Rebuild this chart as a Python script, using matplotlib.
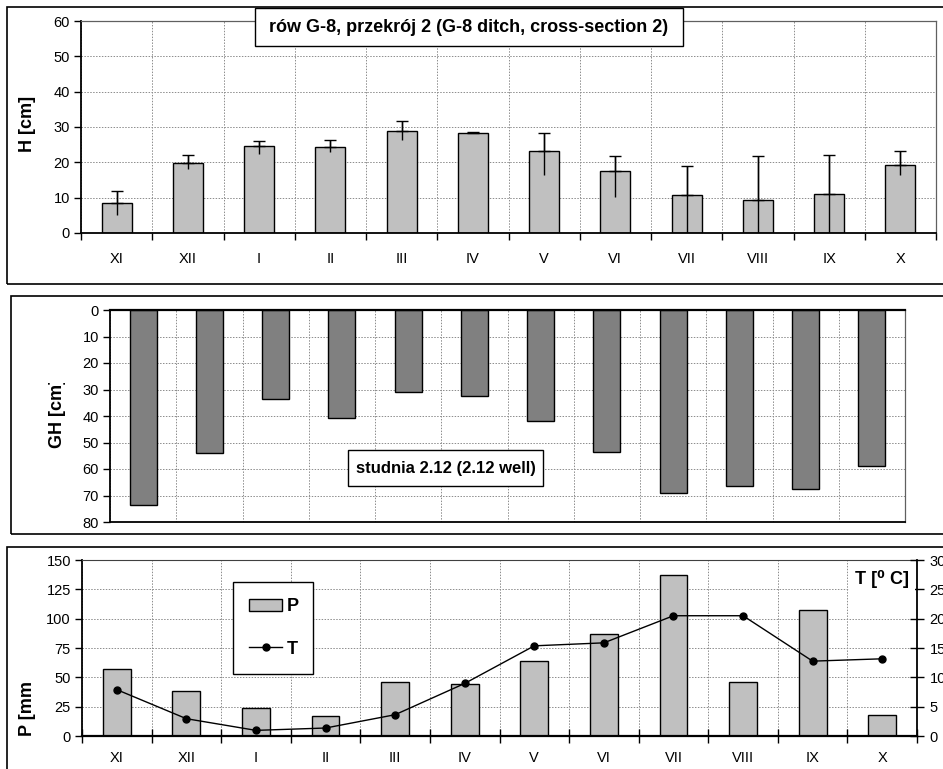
import numpy as np
import matplotlib
matplotlib.use("Agg")
import matplotlib.pyplot as plt
from matplotlib.patches import Rectangle
from matplotlib.lines import Line2D
from matplotlib.transforms import Bbox

plt.rcParams['font.family'] = ['Liberation Sans', 'DejaVu Sans']

months = ["XI", "XII", "I", "II", "III", "IV", "V", "VI", "VII", "VIII", "IX", "X"]

# water level in the ditch with asymmetric ranges
H = [8.4, 19.8, 24.6, 24.3, 29.0, 28.3, 23.2, 17.5, 10.7, 9.3, 11.0, 19.2]
H_hi = [3.6, 2.4, 1.3, 1.9, 2.7, 0.3, 5.1, 4.4, 8.2, 12.6, 11.2, 4.0]
H_lo = [3.3, 1.8, 2.2, 1.3, 2.8, 0.0, 6.9, 7.2, 10.7, 9.3, 11.0, 2.9]

# groundwater depth in the well
GH = [73.7, 53.8, 33.4, 40.6, 31.0, 32.5, 42.0, 53.4, 69.1, 66.5, 67.5, 58.9]

# precipitation and air temperature
P = [56.7, 38.6, 24.1, 17.3, 45.6, 44.5, 64.1, 87.0, 137.2, 45.6, 107.5, 18.1]
T = [7.9, 2.95, 0.96, 1.36, 3.63, 8.96, 15.37, 15.88, 20.5, 20.5, 12.76, 13.16]

W, Hpx = 943, 769
fig = plt.figure(figsize=(W / 100, Hpx / 100), dpi=100)


def fx(x):
    return x / W


def fy(y):
    return 1 - y / Hpx


def axes_px(l, t, r, b):
    return fig.add_axes([fx(l), fy(b), (r - l) / W, (b - t) / Hpx])


def frame(l, t, r, b, lw=1.2, z=0.5):
    fig.add_artist(Rectangle((fx(l), fy(b)), (r - l) / W, (b - t) / Hpx,
                             transform=fig.transFigure, fill=False,
                             edgecolor='black', linewidth=lw, zorder=z))


def boxed_text(l, t, r, b, s, size=13):
    fig.add_artist(Rectangle((fx(l), fy(b)), (r - l) / W, (b - t) / Hpx,
                             transform=fig.transFigure, facecolor='white',
                             edgecolor='black', linewidth=1.0, zorder=4))
    fig.text(fx((l + r) / 2), fy((t + b) / 2), s, ha='center', va='center',
             fontsize=size, fontweight='bold', zorder=5)


def ylabel_px(x, ybottom, s, clip_top=None):
    t = fig.text(fx(x), fy(ybottom), s, rotation=90, rotation_mode='anchor',
                 ha='left', va='center', fontsize=13, fontweight='bold')
    if clip_top is not None:
        t.set_clip_box(Bbox([[0, 0], [W, Hpx - clip_top]]))
        t.set_clip_on(True)
    return t


grid_kw = dict(color='#8c8c8c', linestyle=(0, (1.5, 1.5)), linewidth=0.7)
x = np.arange(len(months))


def style_cat_axis(ax, labels=True):
    ax.set_xlim(-0.5, len(months) - 0.5)
    ax.set_xticks(np.arange(-0.5, len(months)), minor=True)
    ax.xaxis.grid(True, which='minor', **grid_kw)
    ax.yaxis.grid(True, which='major', **grid_kw)
    ax.set_axisbelow(True)
    ax.tick_params(axis='x', which='major', length=0, labelsize=10.5, pad=14)
    ax.tick_params(axis='y', which='major', length=5, width=1, labelsize=10.5, pad=3)
    if labels:
        ax.set_xticks(x)
        ax.set_xticklabels(months)
        ax.tick_params(axis='x', which='minor', length=5, width=1, direction='out')
    else:
        ax.set_xticks([])
        ax.tick_params(axis='x', which='minor', length=0)


# outer frames of the three panels
frame(7, 7, 980, 284)
frame(11, 296, 980, 534)
frame(7, 547, 980, 800)

# --- ditch water level ---
ax1 = axes_px(81, 21, 936, 233)
ax1.bar(x, H, width=0.42, color='#c0c0c0', edgecolor='black', linewidth=1, zorder=2)
ax1.errorbar(x, H, yerr=[H_lo, H_hi], fmt='none', ecolor='black', elinewidth=1,
             capsize=0, zorder=3)
ax1.errorbar(x, H, yerr=[np.zeros(len(H)), H_hi], fmt='none', ecolor='black',
             elinewidth=1, capsize=4, capthick=1, zorder=3)
ax1.set_ylim(0, 60)
ax1.set_yticks(range(0, 61, 10))
style_cat_axis(ax1)
for s in ['left', 'bottom']:
    ax1.spines[s].set_linewidth(1.3)
for s in ['top', 'right']:
    ax1.spines[s].set_color('#606060')
    ax1.spines[s].set_linewidth(0.9)
ylabel_px(28, 152, "H [cm]")
boxed_text(255, 8, 683, 46, "rów G-8, przekrój 2 (G-8 ditch, cross-section 2)")

# --- groundwater depth ---
ax2 = axes_px(110, 310, 905, 522)
ax2.bar(x, GH, width=0.41, color='#808080', edgecolor='black', linewidth=1, zorder=2)
ax2.set_ylim(80, 0)
ax2.set_yticks(range(0, 81, 10))
style_cat_axis(ax2, labels=False)
ax2.spines['top'].set_linewidth(1.6)
ax2.spines['left'].set_linewidth(1.3)
ax2.spines['bottom'].set_linewidth(1.3)
ax2.spines['right'].set_color('#606060')
ax2.spines['right'].set_linewidth(0.9)
ylabel_px(57, 448, "GH [cm]", clip_top=383)
boxed_text(348, 450, 543, 486, "studnia 2.12 (2.12 well)", size=12)

# --- precipitation and temperature ---
ax3 = axes_px(82, 560, 917, 736)
ax3.bar(x, P, width=0.4, color='#c0c0c0', edgecolor='black', linewidth=1, zorder=2,
        label='P')
ax3.set_ylim(0, 150)
ax3.set_yticks(range(0, 151, 25))
style_cat_axis(ax3)
ax3.tick_params(axis='x', which='minor', direction='inout', length=10)
ax3.tick_params(axis='x', which='major', pad=11)
ax3.spines['left'].set_linewidth(1.3)
ax3.spines['bottom'].set_linewidth(1.6)
ax3.spines['top'].set_color('#404040')
ax3.spines['right'].set_visible(False)

ax3t = ax3.twinx()
ax3t.plot(x, T, color='black', linewidth=1, marker='o', markersize=5, label='T')
ax3t.set_ylim(0, 30)
ax3t.set_yticks(range(0, 31, 5))
ax3t.tick_params(axis='y', direction='inout', length=10, width=1, labelsize=10.5, pad=4)
ax3t.spines['right'].set_linewidth(1.3)
for s in ['left', 'top', 'bottom']:
    ax3t.spines[s].set_visible(False)

ylabel_px(28, 736, "P [mm]", clip_top=682)
fig.text(fx(882), fy(579), "T [⁰ C]", ha='center', va='center', fontsize=13,
         fontweight='bold', zorder=5,
         bbox=dict(facecolor='white', edgecolor='none', pad=4))

handles = [Rectangle((0, 0), 1, 1, facecolor='#c0c0c0', edgecolor='black', linewidth=1),
           Line2D([], [], color='black', linewidth=1, marker='o', markersize=5)]
leg = fig.legend(handles, ['P', 'T'], loc='upper left',
                 bbox_to_anchor=(fx(224), fy(668), 98 / W, 95 / Hpx), mode='expand',
                 frameon=True, fancybox=False, framealpha=1, edgecolor='black',
                 prop=dict(weight='bold', size=13), borderpad=0.9, labelspacing=1.4,
                 handlelength=1.8, handleheight=0.7, handletextpad=0.3)
leg.get_frame().set_linewidth(1.0)

fig.savefig("out.png", dpi=100)
